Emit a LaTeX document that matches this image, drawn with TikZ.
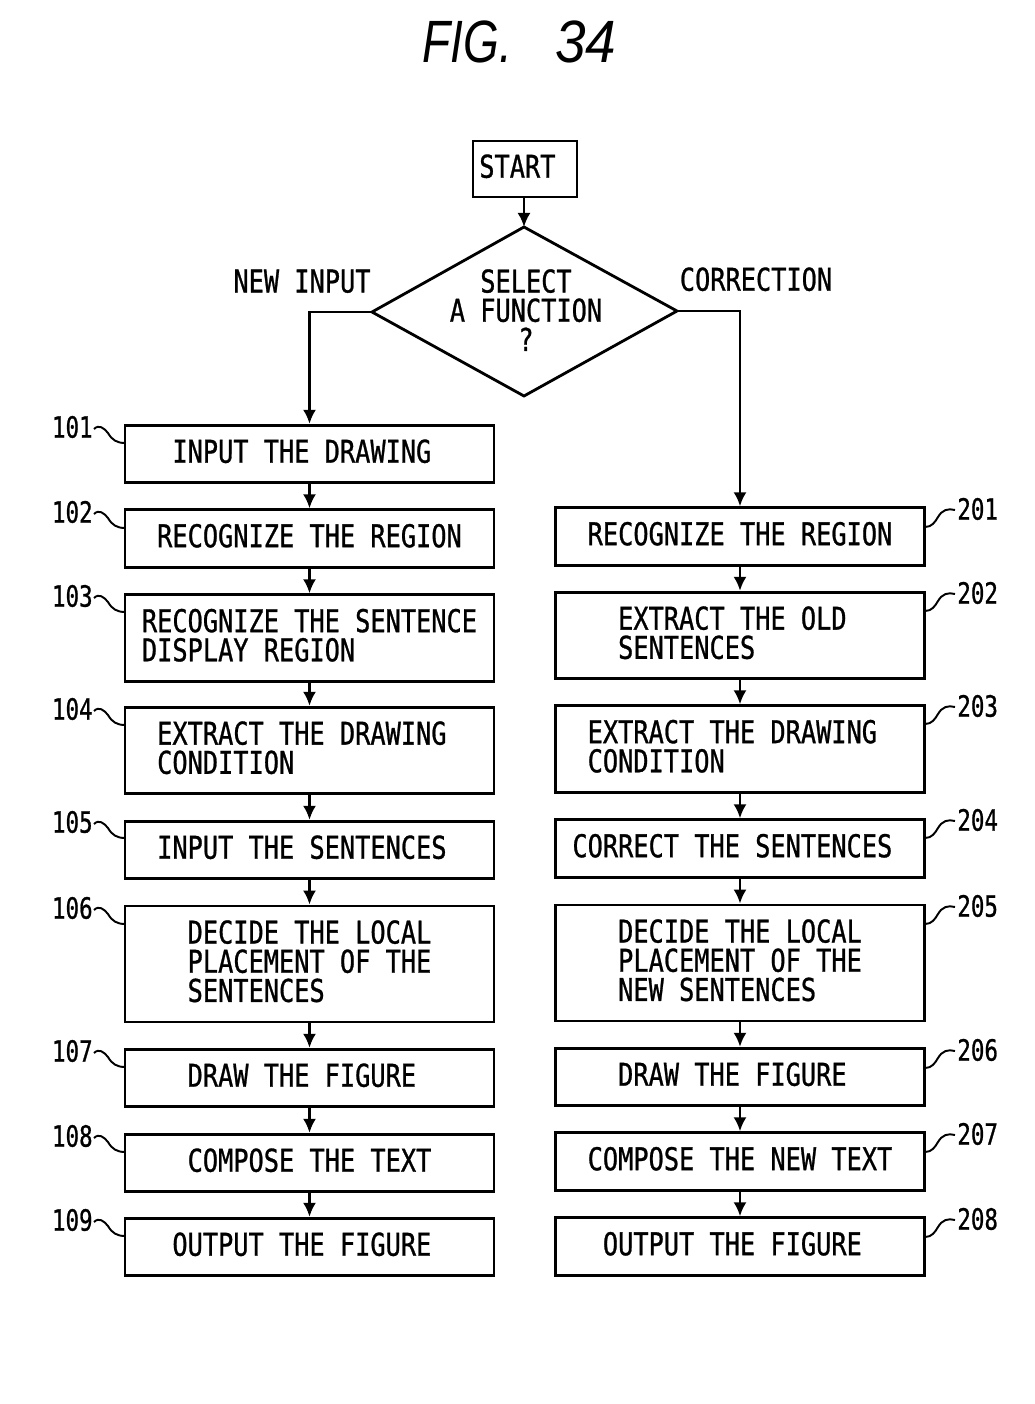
\documentclass[tikz,border=0pt]{standalone}
\usepackage{fontspec}
\setmonofont[BoldFont={DejaVu Sans Mono},BoldFeatures={FakeBold=1}]{DejaVu Sans Mono}
\setsansfont{Liberation Sans}
\usepackage{graphicx}
\usetikzlibrary{arrows.meta}
\newcommand{\tx}[1]{\scalebox{1}[1.24]{\fontsize{14.4pt}{9pt}\selectfont\ttfamily\bfseries\begin{tabular}{@{}l@{}}#1\end{tabular}}}
% same, with half a character of room at the right (text on the original character grid)
\newcommand{\txs}[1]{\scalebox{1}[1.24]{\fontsize{14.4pt}{9pt}\selectfont\ttfamily\bfseries\begin{tabular}{@{}l@{\hspace{8.67pt}}}#1\end{tabular}}}
\newcommand{\txc}[1]{\scalebox{1}[1.24]{\fontsize{14.4pt}{9pt}\selectfont\ttfamily\bfseries\begin{tabular}{@{}c@{}}#1\end{tabular}}}
\newcommand{\nm}[1]{\scalebox{1}[1.3]{\fontsize{12.8pt}{13pt}\selectfont\ttfamily\bfseries #1}}
\tikzset{
  box/.style={draw, line width=1.6pt, inner sep=0pt, minimum width=7.38cm},
  hs/.style={minimum height=1.15cm},
  hm/.style={minimum height=1.73cm},
  hl/.style={minimum height=2.32cm},
  flow/.style={line width=1.6pt, -{Latex[length=8pt,width=7.5pt]}},
  lbl/.style={inner sep=0pt},
  sq/.style={line width=1.1pt},
  ttl/.style={inner sep=0pt, font=\fontsize{34pt}{36pt}\selectfont\sffamily\itshape},
}
\begin{document}
\begin{tikzpicture}[x=0.02cm,y=-0.02cm]
\useasboundingbox (0,0) rectangle (1035,1404);
% title
\node[ttl] (title1) at (467.5,42) {\scalebox{0.77}[1]{FIG.}};
\node[ttl] (title2) at (586,42) {\scalebox{0.92}[1]{34}};
% start
\node[draw, line width=1.6pt, minimum width=2.08cm, minimum height=1.12cm, inner sep=0pt] (start) at (525,169) {\txs{START}};
% diamond
\coordinate (dt) at (524,227);
\coordinate (db) at (524,396);
\coordinate (dl) at (372,312);
\coordinate (dr) at (677,311);
\draw[line width=1.6pt, line join=miter] (dt) -- (dr) -- (db) -- (dl) -- cycle;
\node[lbl] (sel) at (526,313) {\txc{SELECT\\A FUNCTION\\?}};
\node[lbl] (newin) at (302,284) {\tx{NEW INPUT}};
\node[lbl] (corr) at (756,282) {\tx{CORRECTION}};

% left column
\node[box,hs] (b101) at (309.5,454) {\txs{INPUT THE DRAWING}};
\node[box,hs] (b102) at (309.5,538.5) {\tx{RECOGNIZE THE REGION}};
\node[box,hm] (b103) at (309.5,638) {\tx{RECOGNIZE THE SENTENCE\\DISPLAY REGION}};
\node[box,hm] (b104) at (309.5,750.5) {\txs{EXTRACT THE DRAWING\\CONDITION}};
\node[box,hs] (b105) at (309.5,850) {\txs{INPUT THE SENTENCES}};
\node[box,hl] (b106) at (309.5,964) {\tx{DECIDE THE LOCAL\\PLACEMENT OF THE\\SENTENCES}};
\node[box,hs] (b107) at (309.5,1078) {\txs{DRAW THE FIGURE}};
\node[box,hs] (b108) at (309.5,1163) {\tx{COMPOSE THE TEXT}};
\node[box,hs] (b109) at (309.5,1247) {\txs{OUTPUT THE FIGURE}};

% right column
\node[box,hs] (b201) at (740,536.5) {\tx{RECOGNIZE THE REGION}};
\node[box,hm] (b202) at (740,635.5) {\txs{EXTRACT THE OLD\\SENTENCES}};
\node[box,hm] (b203) at (740,749) {\txs{EXTRACT THE DRAWING\\CONDITION}};
\node[box,hs] (b204) at (740,848.5) {\txs{CORRECT THE SENTENCES}};
\node[box,hl] (b205) at (740,963) {\tx{DECIDE THE LOCAL\\PLACEMENT OF THE\\NEW SENTENCES}};
\node[box,hs] (b206) at (740,1077) {\txs{DRAW THE FIGURE}};
\node[box,hs] (b207) at (740,1161.5) {\tx{COMPOSE THE NEW TEXT}};
\node[box,hs] (b208) at (740,1246.5) {\txs{OUTPUT THE FIGURE}};

% connectors
\draw[flow] (start.south -| dt) -- (dt);
\draw[flow] (dl) -| (b101.north);
\draw[flow] (dr) -| (b201.north);
\foreach \a/\b in {b101/b102,b102/b103,b103/b104,b104/b105,b105/b106,b106/b107,b107/b108,b108/b109,
                   b201/b202,b202/b203,b203/b204,b204/b205,b205/b206,b206/b207,b207/b208}
  \draw[flow] (\a.south) -- (\b.north);

% left labels
\foreach \n/\y in {101/427,102/512,103/596,104/709,105/822,106/908,107/1051,108/1136,109/1220}{
  \node[lbl, anchor=east] (l\n) at (93,\y) {\nm{\n}};
  \begin{scope}[shift={(l\n.east)}]
    \draw[sq] (1,2) .. controls (6,-3) and (11,1) .. (15,6)
          .. controls (19,13) and (24,16) .. (32,16);
  \end{scope}
}
% right labels
\foreach \n/\y in {201/509,202/593,203/706,204/820,205/906,206/1050,207/1134,208/1219}{
  \node[lbl, anchor=west] (r\n) at (957,\y) {\nm{\n}};
  \begin{scope}[shift={(r\n.west)}]
    \draw[sq] (-32,18) .. controls (-25,18) and (-22,13) .. (-19,8)
          .. controls (-15,1) and (-9,-1) .. (-2,1);
  \end{scope}
}
\end{tikzpicture}
\end{document}
